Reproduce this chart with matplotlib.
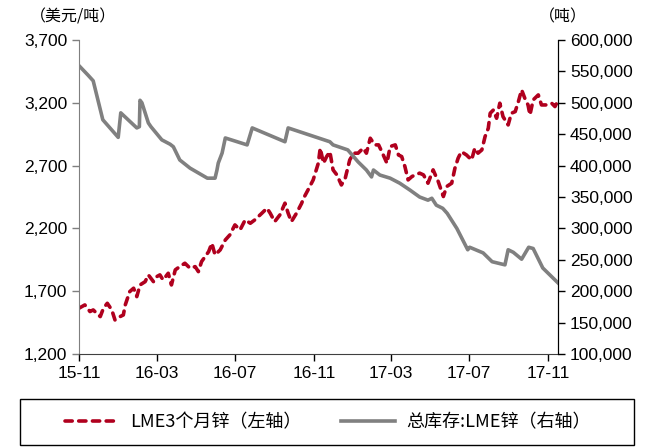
import matplotlib
matplotlib.use('Agg')
import matplotlib.pyplot as plt
import pandas as pd
from matplotlib.patches import Rectangle
from matplotlib.ticker import FuncFormatter

# days counted from 2015-11-01
START = '2015-11-01'

# LME 3-month zinc price (USD/t), left axis
price_days = [
    0, 9, 17, 22, 33, 38, 44, 51, 56, 64, 69, 72, 79, 85, 90, 95, 103, 108,
    116, 121, 126, 131, 139, 144, 150, 157, 165, 173, 181, 186, 191, 202, 207, 212,
    220, 228, 235, 243, 251, 259, 267, 274, 285, 293, 298, 305, 313, 321, 326, 331,
    339, 347, 350, 357, 365, 373, 376, 381, 386, 391, 396, 402, 409, 415, 422, 428,
    435, 443, 448, 454, 461, 467, 472, 480, 485, 493, 498, 503, 508, 513, 519, 524,
    531, 537, 544, 552, 560, 568, 573, 581, 586, 591, 596, 604, 612, 617, 622, 628,
    633, 638, 641, 646, 651, 656, 661, 669, 674, 680, 685, 690, 695, 700, 703, 708,
    716, 721, 729, 737, 742, 747,
]
price_values = [
    1565, 1591, 1538, 1551, 1498, 1565, 1604, 1551, 1471, 1498, 1511, 1591, 1697, 1724, 1657, 1750, 1776, 1830,
    1776, 1816, 1830, 1790, 1843, 1750, 1870, 1896, 1923, 1883, 1896, 1856, 1936, 2015, 2082, 1989,
    2029, 2108, 2148, 2228, 2188, 2268, 2241, 2268, 2321, 2361, 2321, 2254, 2307, 2401, 2321, 2254,
    2321, 2400, 2440, 2507, 2586, 2719, 2839, 2719, 2772, 2811, 2666, 2626, 2546, 2600, 2745, 2799,
    2799, 2839, 2799, 2918, 2865, 2865, 2811, 2719, 2852, 2865, 2785, 2772, 2693, 2586, 2613, 2626,
    2640, 2626, 2560, 2666, 2573, 2454, 2533, 2560, 2679, 2759, 2811, 2785, 2745, 2839, 2799, 2825,
    2931, 2997, 3117, 3143, 3077, 3197, 3090, 3024, 3117, 3130, 3210, 3303, 3236, 3183, 3104, 3223,
    3263, 3183, 3183, 3196, 3170, 3220,
]

# LME zinc total stocks (t), right axis
stock_days = [
    0, 14, 22, 37, 61, 65, 90, 94, 95, 98, 108, 112, 129, 142, 147, 157, 173, 200,
    212, 215, 217, 223, 228, 262, 270, 321, 326, 391, 396, 419, 435, 448, 456, 459,
    469, 485, 500, 516, 531, 544, 550, 557, 567, 574, 589, 606, 609, 630, 644, 664,
    669, 677, 690, 701, 708, 723, 747,
]
stock_values = [
    559000, 544000, 535000, 473000, 445000, 484000, 460000, 462000, 504000, 500000, 468000, 462000,
    441000, 434000, 430000, 409000, 396000, 380000,
    380000, 393000, 404000, 420000, 444000, 433000, 460000, 438000, 460000, 438000, 433000, 425000,
    406000, 393000, 382000, 393000,
    385000, 380000, 372000, 361000, 350000, 345000, 348000, 337000, 332000, 324000, 300000, 266000,
    270000, 261000, 247000, 242000,
    266000, 262000, 251000, 270000, 268000, 237000, 213000,
]

tick_labels = ['15-11', '16-03', '16-07', '16-11', '17-03', '17-07', '17-11']
tick_dates = ['2015-11-01', '2016-03-01', '2016-07-01', '2016-11-01',
              '2017-03-01', '2017-07-01', '2017-11-01']

RED = '#B0001E'
GRAY = '#808080'
CJK = ['Noto Sans CJK SC', 'DejaVu Sans']

plt.rcParams['font.family'] = ['Liberation Sans', 'DejaVu Sans']

start = pd.Timestamp(START)
price_x = start + pd.to_timedelta(price_days, unit='D')
stock_x = start + pd.to_timedelta(stock_days, unit='D')

fig = plt.figure(figsize=(6.59, 4.47), dpi=100)
ax = fig.add_axes([0.120, 0.208, 0.727, 0.7025])
ax2 = ax.twinx()

l1, = ax.plot(price_x, price_values, color=RED, lw=2.6,
              linestyle=(0, (2.0, 1.8)), dash_capstyle='round',
              label='LME3个月锌（左轴）')
l2, = ax2.plot(stock_x, stock_values, color=GRAY, lw=2.6,
               solid_joinstyle='round', label='总库存:LME锌（右轴）')

ax.set_ylim(1200, 3700)
ax.set_yticks(range(1200, 3701, 500))
ax2.set_ylim(100000, 600000)
ax2.set_yticks(range(100000, 600001, 50000))
fmt = FuncFormatter(lambda v, p: f'{int(v):,}')
ax.yaxis.set_major_formatter(fmt)
ax2.yaxis.set_major_formatter(fmt)

ax.set_xlim(start, start + pd.Timedelta(days=747))
ax.set_xticks(pd.to_datetime(tick_dates))
ax.set_xticklabels(tick_labels)

for a in (ax, ax2):
    a.spines['top'].set_visible(False)
    a.tick_params(labelsize=12.5, length=5, width=1, direction='out', colors='black')
ax.spines['left'].set_color('#7f7f7f')
ax.spines['bottom'].set_color('#404040')
ax2.spines['left'].set_visible(False)
ax2.spines['bottom'].set_visible(False)
ax2.spines['right'].set_color('black')
ax.tick_params(axis='y', color='#7f7f7f')

fig.text(0.045, 0.962, '（美元/吨）', fontsize=11.5, family=CJK, va='center', ha='left')
fig.text(0.818, 0.962, '（吨）', fontsize=11.5, family=CJK, va='center', ha='left')

# legend box at the bottom
fig.patches.append(Rectangle((0.0303, 0.0045), 0.9317, 0.103, transform=fig.transFigure,
                             fill=False, edgecolor='black', lw=1.0))
fig.legend(handles=[l1, l2], loc='center', ncol=2,
           bbox_to_anchor=(0.497, 0.056), prop={'family': CJK, 'size': 13},
           frameon=False, handlelength=3.0, handletextpad=0.6, columnspacing=2.2)

fig.savefig('out.png', dpi=100)
